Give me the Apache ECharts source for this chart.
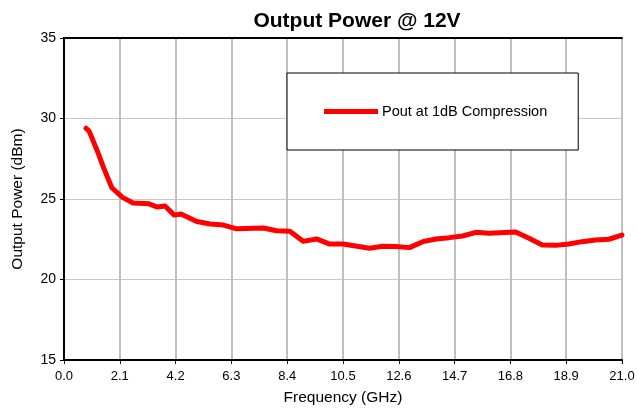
<!DOCTYPE html>
<html>
<head>
<meta charset="utf-8">
<script src="https://cdn.jsdelivr.net/npm/echarts@6/dist/echarts.min.js"></script>
<style>
	html, body { margin: 0; padding: 0; background: #fff; }
	#chart { width: 638px; height: 411px; }
</style>
</head>
<body>
<div id="chart"></div>
<script>
	// frequency in GHz
	var freqGHz = [0.83, 0.95, 1.25, 1.5, 1.8, 2.2, 2.6, 3.2, 3.5, 3.8, 4.15, 4.4, 5.0, 5.5, 6.0, 6.5, 7.5, 8.0, 8.5, 9.0,
		9.5, 10.0, 10.5, 11.5, 12.0, 12.5, 13.0, 13.5, 14.0, 14.5, 15.0, 15.5, 16.0, 17.0, 17.5, 18.0, 18.5, 19.0,
		19.5, 20.0, 20.5, 21.0];
	// Pout at 1dB compression, dBm
	var poutDbm = [29.4, 29.2, 28.0, 26.9, 25.7, 25.1, 24.75, 24.7, 24.5, 24.57, 24.0, 24.07, 23.6, 23.45, 23.38, 23.15, 23.2, 23.03, 22.99, 22.37,
		22.52, 22.2, 22.2, 21.94, 22.06, 22.05, 21.98, 22.35, 22.52, 22.6, 22.7, 22.93, 22.87, 22.95, 22.56, 22.14, 22.12, 22.2,
		22.35, 22.45, 22.5, 22.76];
	var seriesName = 'Pout at 1dB Compression';

	var font = 'Liberation Sans, Arial, sans-serif';
	var points = freqGHz.map(function (f, i) { return [f, poutDbm[i]]; });

	var chart = echarts.init(document.getElementById('chart'), null, { renderer: 'canvas' });
	chart.setOption({
		animation: false,
		backgroundColor: '#fff',
		title: {
			text: 'Output Power @ 12V',
			left: 352, top: 6, textAlign: 'center',
			textStyle: { fontFamily: font, fontSize: 21, fontWeight: 'bold', color: '#000' }
		},
		legend: {
			left: 287, top: 73,
			padding: [31, 31, 31, 37],
			borderColor: '#000', borderWidth: 1, borderRadius: 0,
			backgroundColor: '#fff',
			icon: 'rect', itemWidth: 54, itemHeight: 5, itemGap: 0,
			textStyle: { fontFamily: font, fontSize: 14.5, color: '#000', padding: [0, 0, 0, -1] },
			data: [seriesName]
		},
		grid: { left: 64, right: 16, top: 38, bottom: 51, outerBoundsMode: 'none' },
		xAxis: [{
			type: 'value', min: 0, max: 21, interval: 2.1,
			name: 'Frequency (GHz)', nameLocation: 'middle', nameGap: 30,
			nameTextStyle: { fontFamily: font, fontSize: 15.5, color: '#000' },
			axisLine: { lineStyle: { color: '#000', width: 2 } },
			axisTick: { show: true, length: 4, lineStyle: { color: '#000', width: 1 } },
			axisLabel: { margin: 10, fontFamily: font, fontSize: 13, color: '#000',
				formatter: function (v) { return v.toFixed(1); } },
			splitLine: { show: true, lineStyle: { color: '#c0c0c0', width: 2 } }
		}, {
			type: 'value', position: 'top', min: 0, max: 21,
			axisLine: { show: true, lineStyle: { color: '#000', width: 2 } },
			axisTick: { show: false }, axisLabel: { show: false }, splitLine: { show: false }
		}],
		yAxis: [{
			type: 'value', min: 15, max: 35, interval: 5,
			name: 'Output Power (dBm)', nameLocation: 'middle', nameGap: 38,
			nameTextStyle: { fontFamily: font, fontSize: 15.5, color: '#000' },
			axisLine: { show: true, lineStyle: { color: '#000', width: 2 } },
			axisTick: { show: true, length: 4, lineStyle: { color: '#000', width: 1 } },
			axisLabel: { margin: 8, fontFamily: font, fontSize: 14, color: '#000' },
			splitLine: { show: true, lineStyle: { color: '#c8c8c8', width: 1 } }
		}, {
			type: 'value', position: 'right', min: 15, max: 35,
			axisLine: { show: true, lineStyle: { color: '#000', width: 2 } },
			axisTick: { show: false }, axisLabel: { show: false }, splitLine: { show: false }
		}],
		series: [{
			name: seriesName,
			type: 'line',
			data: points,
			symbol: 'none',
			z: 3,
			lineStyle: { color: '#ff0000', width: 5, cap: 'round', join: 'round' },
			itemStyle: { color: '#ff0000' }
		}]
	});
</script>
</body>
</html>
